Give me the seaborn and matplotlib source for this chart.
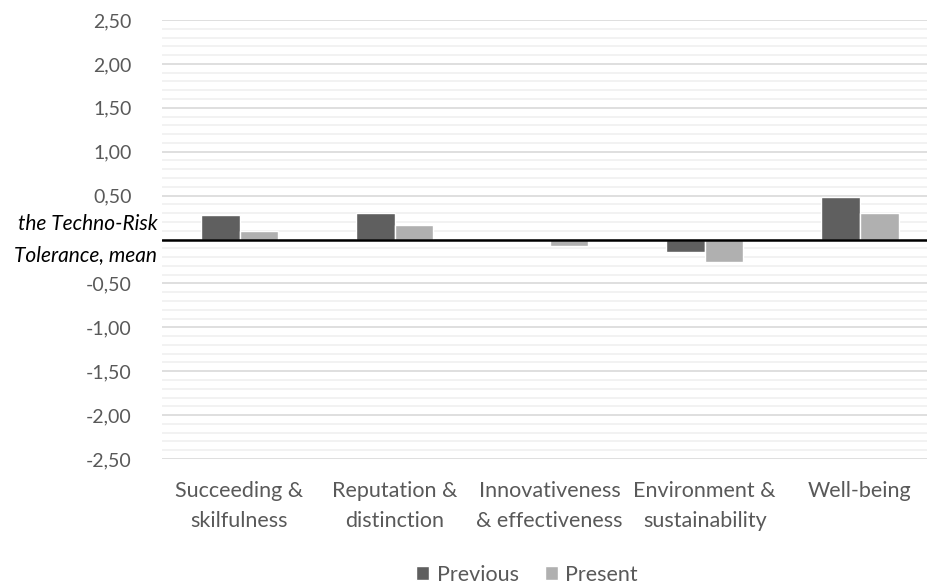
import pandas as pd
import numpy as np
import matplotlib.pyplot as plt
import matplotlib.ticker as mticker
import seaborn as sns

categories = ["Succeeding &\nskilfulness", "Reputation &\ndistinction", "Innovativeness\n& effectiveness",
              "Environment &\nsustainability", "Well-being"]
previous = [0.28, 0.30, -0.01, -0.14, 0.48]
present = [0.10, 0.17, -0.075, -0.26, 0.30]
series = ["Previous", "Present"]
colors = ["#5f5f5f", "#b0b0b0"]

data = pd.DataFrame({
    "category": categories * 2,
    "value": previous + present,
    "series": [series[0]] * len(categories) + [series[1]] * len(categories),
})

sns.set_style("white")
plt.rcParams['font.family'] = ['Lato', 'DejaVu Sans']

fig = plt.figure(figsize=(9.28, 5.85), dpi=100)
ax = fig.add_axes([162 / 928, 1 - 459 / 585, (928 - 162) / 928, (459 - 20) / 585])

sns.barplot(data=data, x="category", y="value", hue="series", palette=colors,
            width=0.5, ax=ax, saturation=1, legend=True, zorder=3)

ax.set_ylim(-2.5, 2.5)
ax.set_xlim(-0.5, 4.44)
ax.yaxis.set_major_locator(mticker.MultipleLocator(0.5))
ax.yaxis.set_minor_locator(mticker.MultipleLocator(0.1))
ax.grid(which="major", axis="y", color="#d9d9d9", linewidth=1.2, zorder=0)
ax.grid(which="minor", axis="y", color="#f0f0f0", linewidth=1.2, zorder=0)
ax.axhline(0, color="black", linewidth=1.8, zorder=4)
for s in ax.spines.values():
    s.set_visible(False)

yticks = np.arange(-2.5, 2.51, 0.5)
ax.set_yticks(yticks)
ax.set_yticklabels(["" if abs(v) < 1e-9 else f"{v:.2f}".replace(".", ",") for v in yticks])
ax.tick_params(axis="y", which="both", length=0, pad=22, labelsize=14, labelcolor="#595959")
ax.tick_params(axis="x", length=0, pad=16, labelsize=15.5, labelcolor="#595959")
for lbl in ax.get_xticklabels():
    lbl.set_linespacing(1.6)
ax.set_xlabel("")
ax.set_ylabel("")

ax.text(-0.006, 0.0, "the Techno-Risk\nTolerance, mean", transform=ax.get_yaxis_transform(),
        ha="right", va="center", style="italic", fontsize=15, color="black", linespacing=1.65)

ax.legend(loc="lower center", ncol=2, frameon=False, fontsize=15.5, handlelength=0.6, handleheight=0.6,
          handletextpad=0.35, columnspacing=1.2, borderaxespad=0.0)
leg = ax.get_legend()
leg.set_bbox_to_anchor((527 / 928, -0.014), transform=fig.transFigure)
for t in leg.get_texts():
    t.set_color("#595959")

fig.savefig("out.png", dpi=100)
